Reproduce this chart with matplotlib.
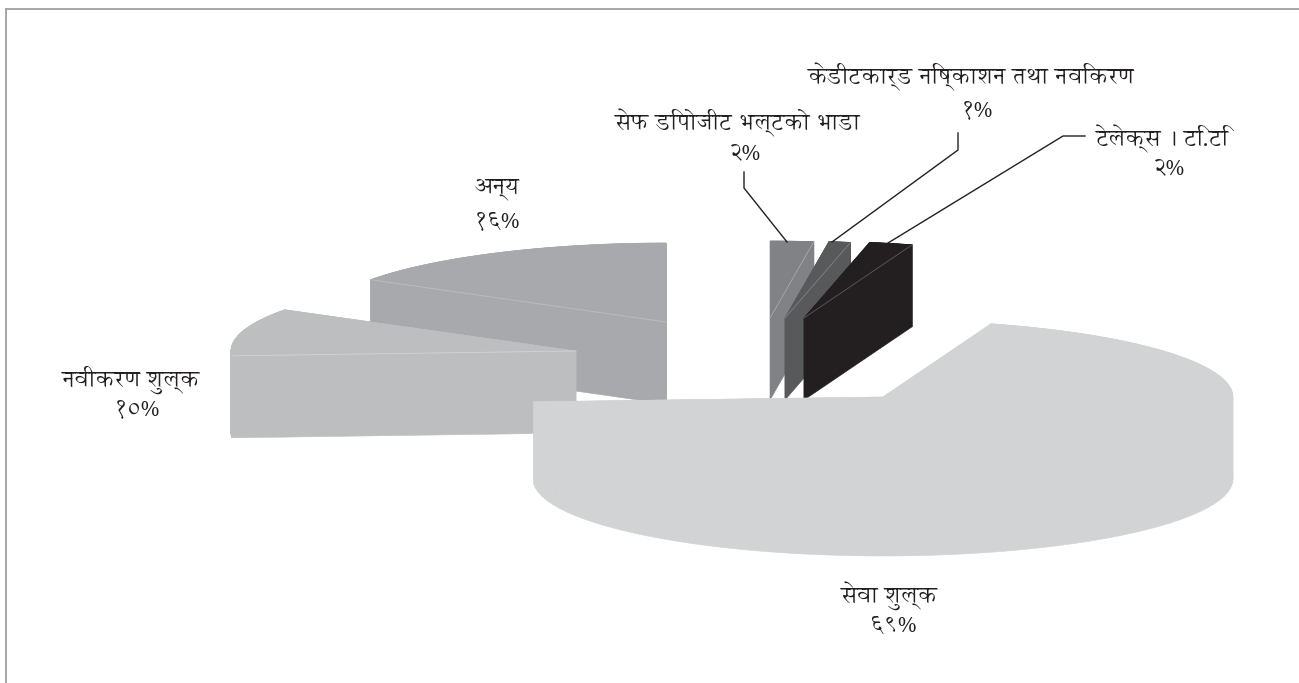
import numpy as np
import matplotlib
matplotlib.use("Agg")
import matplotlib.pyplot as plt
from matplotlib.patches import Polygon

plt.rcParams['font.family'] = ['Annapurna SIL', 'DejaVu Sans']

# values go counter-clockwise from the left edge of the big slice
categories = ["सेवा शुल्क", "टेलेक्स । टि.टि", "केडीटकार्ड निष्काशन तथा नविकरण",
              "सेफ डिपोजीट भल्टको भाडा", "अन्य", "नवीकरण शुल्क"]
values = [69, 2, 1, 2, 16, 10]
pct_labels = ["६९%", "२%", "१%", "२%", "१६%", "१०%"]

colors = ["#d1d3d4", "#231f20", "#58595b", "#808285", "#a7a9ac", "#bcbec0"]
seam_colors = ["#dcdddf", "#58595b", "#808285", "#a7a9ac", "#bcbec0", "#d1d3d4"]

# exploded centre of each slice, in picture pixels
centers = [(883, 397), (804, 318), (785, 318), (770, 318), (666, 322), (576, 351)]
rx_list = [350, 350, 350, 350, 350, 345]
ry_list = [77, 77, 77, 77, 79, 77]
depth = 82
start_angle = 183.6
draw_order = [4, 5, 3, 2, 1, 0]
# which cut edge shows the light seam: 0 = start of the slice, 1 = end
seam_edge = [None, 0, 0, 0, 1, 1]

label_pos = [(888, 596), (1162, 139), (970, 77), (737, 123), (497, 189), (131, 380)]
pct_pos = [(893, 626), (1168, 168), (977, 110), (744, 153), (497, 221), (137, 409)]

leaders = [
    ([744, 744, 787], [172, 188, 242]),
    ([958, 958, 832], [133, 150, 242]),
    ([1085, 1063, 888], [136, 136, 243]),
]

fig = plt.figure(figsize=(12.99, 6.83), dpi=100)
ax = fig.add_axes([0, 0, 1, 1])
ax.set_xlim(0, 1299)
ax.set_ylim(683, 0)
ax.axis("off")


def slice_outline(i, a0, a1):
    t = np.radians(np.linspace(a0, a1, 80))
    cx, cy = centers[i]
    xs = cx + rx_list[i] * np.cos(t)
    ys = cy - ry_list[i] * np.sin(t)
    return np.column_stack([np.r_[cx, xs], np.r_[cy, ys]])


# work out angles from the values
angles = [start_angle]
for v in values:
    angles.append(angles[-1] + v / sum(values) * 360)

for i in draw_order:
    pts = slice_outline(i, angles[i], angles[i + 1])
    c = colors[i]
    # sides first, one quad per outline edge, then the top
    for k in range(len(pts)):
        p = pts[k]
        q = pts[(k + 1) % len(pts)]
        quad = [p, q, q + [0, depth], p + [0, depth]]
        ax.add_patch(Polygon(quad, closed=True, fc=c, ec=c, lw=0.4, zorder=2))
    ax.add_patch(Polygon(pts, closed=True, fc=c, ec=c, lw=0.4, zorder=2))
    # thin light line where the cut edge meets the side
    if seam_edge[i] is not None:
        rim = pts[1] if seam_edge[i] == 0 else pts[-1]
        ax.plot([rim[0], pts[0][0]], [rim[1], pts[0][1]], color=seam_colors[i], lw=0.6, zorder=2)

for xs, ys in leaders:
    ax.plot(xs, ys, color="#231f20", lw=1.0, zorder=3)

for i in range(len(categories)):
    ax.text(label_pos[i][0], label_pos[i][1], categories[i], ha="center", va="center",
            fontsize=16.8, color="#231f20")
    ax.text(pct_pos[i][0], pct_pos[i][1], pct_labels[i], ha="center", va="center",
            fontsize=17, color="#231f20")

# frame, only top and left are there
ax.plot([6.5, 1299], [9, 9], color="#a0a0a0", lw=1.3, zorder=1)
ax.plot([6.5, 6.5], [9, 683], color="#a0a0a0", lw=1.3, zorder=1)

fig.savefig("out.png", dpi=100)
